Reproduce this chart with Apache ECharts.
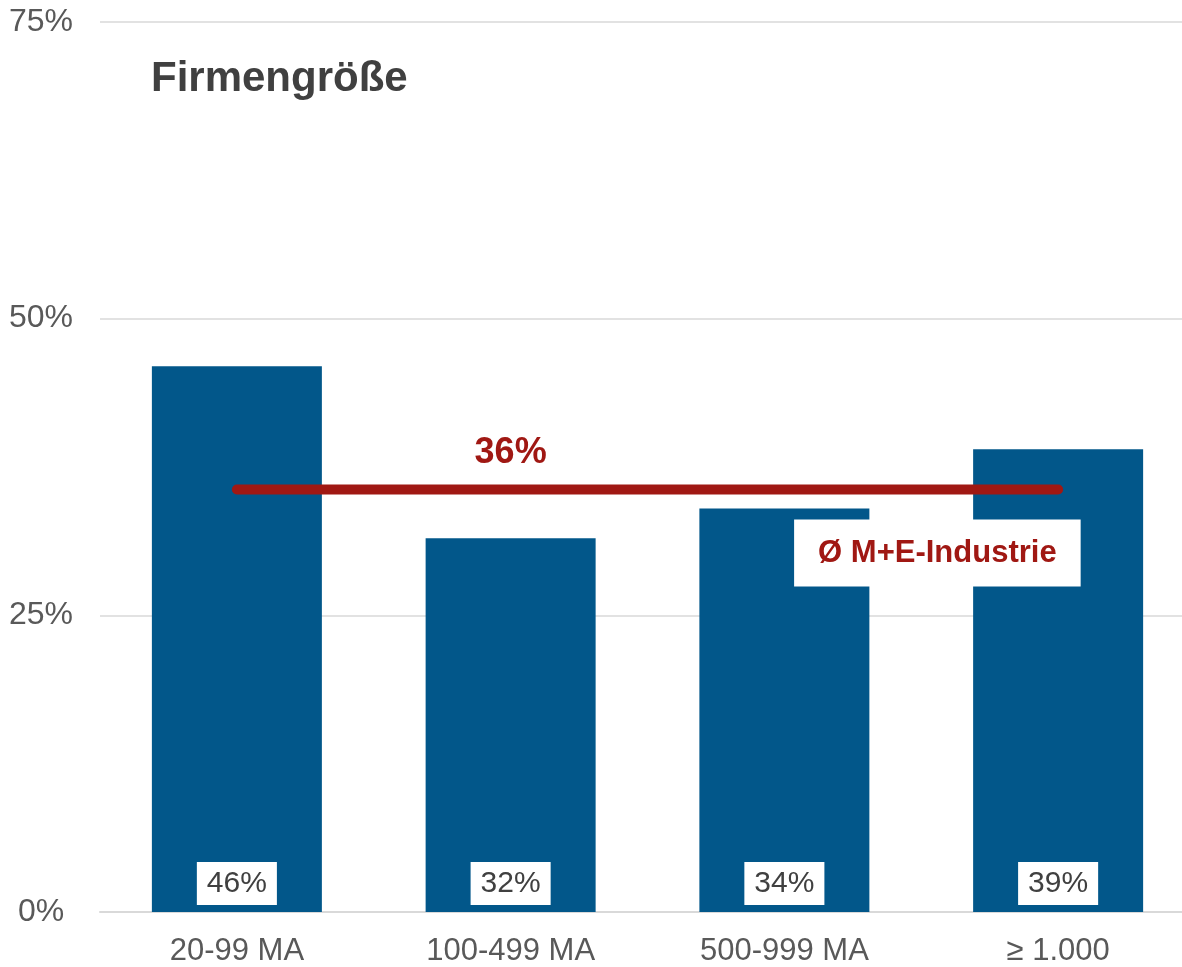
<!DOCTYPE html>
<html>
<head>
<meta charset="utf-8">
<title>Firmengröße</title>
<script src="https://cdn.jsdelivr.net/npm/echarts@6/dist/echarts.min.js"></script>
<style>
  html, body { margin: 0; padding: 0; background: #fff; overflow: hidden; }
  #chart { width: 1200px; height: 967px; }
</style>
</head>
<body>
<div id="chart"></div>
<script>
  // data
  const categories = ["20-99 MA", "100-499 MA", "500-999 MA", "≥ 1.000"];
  const shares = [46, 31.5, 34, 39];
  const industryAvg = 35.6;
  const yTicks = [0, 25, 50, 75];

  const BLUE = "#02578A";
  const RED = "#A01813";
  const GREY = "#595959";
  const FONT = "Liberation Sans, Arial, sans-serif";

  const avgLine = categories.map(() => industryAvg);

  const chart = echarts.init(document.getElementById("chart"));
  chart.setOption({
    animation: false,
    textStyle: { fontFamily: FONT },
    title: {
      text: "Firmengröße",
      left: 146,
      top: 53,
      textStyle: { fontFamily: FONT, fontSize: 42, fontWeight: "bold", color: "#404040" },
    },
    // plot runs a little past the right edge of the picture, as in the original
    grid: { left: 100, top: 22, width: 1095, height: 890, containLabel: false },
    xAxis: {
      type: "category",
      data: categories,
      axisTick: { show: false },
      axisLine: { lineStyle: { color: "#d9d9d9", width: 2 } },
      axisLabel: { color: GREY, fontSize: 31, margin: 24 },
    },
    yAxis: {
      type: "value",
      min: yTicks[0],
      max: yTicks[yTicks.length - 1],
      interval: 25,
      axisLine: { show: false },
      axisTick: { show: false },
      splitLine: { lineStyle: { color: "#d9d9d9", width: 1.5 } },
      axisLabel: { color: GREY, fontSize: 32, align: "center", margin: 59, formatter: (v) => v + "%" },
    },
    series: [
      {
        type: "bar",
        data: shares,
        barWidth: 170,
        itemStyle: { color: BLUE },
        label: {
          show: true,
          position: "insideBottom",
          distance: 7,
          formatter: (p) => Math.round(p.value) + "%",
          fontSize: 30,
          color: "#404040",
          backgroundColor: "#fff",
          padding: [7, 10, 6, 10],
        },
      },
      {
        type: "line",
        data: avgLine.map((v, i) => {
          if (i === 1) {
            return { value: v, label: { show: true, position: "top", distance: 18, formatter: Math.round(v) + "%", fontSize: 36, fontWeight: "bold", color: RED } };
          }
          if (i === 2) {
            return {
              value: v,
              label: {
                show: true, position: "bottom", distance: 30, offset: [153, 0],
                formatter: "Ø M+E-Industrie", fontSize: 31, fontWeight: "bold", color: RED,
                backgroundColor: "#fff", padding: [18, 24, 18, 24],
              },
            };
          }
          return v;
        }),
        symbol: "circle",
        symbolSize: 0.01,
        showSymbol: true,
        itemStyle: { color: RED },
        lineStyle: { color: RED, width: 10, cap: "round" },
        z: 5,
      },
    ],
  });
</script>
</body>
</html>
